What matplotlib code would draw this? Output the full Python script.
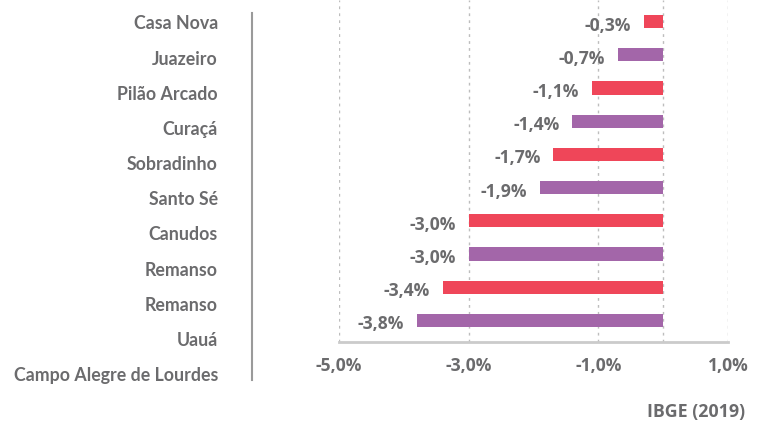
"""Variação populacional por município (IBGE 2019)."""

import matplotlib
matplotlib.use("Agg")
import matplotlib.pyplot as plt
from matplotlib.ticker import FuncFormatter

# --- data -------------------------------------------------------------
city_labels = [
    "Casa Nova", "Juazeiro", "Pilão Arcado", "Curaçá", "Sobradinho",
    "Santo Sé", "Canudos", "Remanso", "Remanso", "Uauá",
    "Campo Alegre de Lourdes",
]
variation = [-0.3, -0.7, -1.1, -1.4, -1.7, -1.9, -3.0, -3.0, -3.4, -3.8]
tick_values = [-5, -3, -1, 1]
grid_values = [-5, -3, -1, 0, 1]
source_note = "IBGE (2019)"

RED = "#ef4659"
PURPLE = "#a366a9"
TEXT = "#6b6b6d"
NUM_FONT = ["Open Sans", "DejaVu Sans"]
NUM_SIZE = 12.6
bar_colors = [RED if i % 2 == 0 else PURPLE for i in range(len(variation))]

plt.rcParams["font.family"] = ["Lato", "DejaVu Sans"]
plt.rcParams["font.weight"] = "bold"

W, H = 761, 423
fig = plt.figure(figsize=(W / 100, H / 100), dpi=100)


def fx(px):
    return px / W


def fy(px):
    return 1 - px / H


def pct(v):
    return f"{v:.1f}%".replace(".", ",")


# bars axes: x -5..1 spans pixels 339..728, bottom axis at y=342
ax = fig.add_axes([fx(339), fy(342), fx(728) - fx(339), fy(0) - fy(342)])
pos = list(range(len(variation)))
ax.barh(pos, variation, height=0.4, color=bar_colors, zorder=3)
ax.set_xlim(-5, 1)
ax.set_ylim(9.65, -0.65)

for x in grid_values:
    ax.axvline(x, color="#bdbdbd", lw=1, ls=(0, (2, 3)), zorder=1)

for p, v in zip(pos, variation):
    ax.annotate(pct(v), (v, p + 0.12),
                xytext=(-9, 0), textcoords="offset points",
                ha="right", va="center", fontsize=NUM_SIZE, family=NUM_FONT,
                fontweight="bold", color=TEXT)

ax.set_xticks(tick_values)
ax.xaxis.set_major_formatter(FuncFormatter(lambda v, _: pct(v)))
ax.tick_params(axis="x", length=0, pad=11, labelcolor=TEXT)
for t in ax.get_xticklabels():
    t.set_fontfamily(NUM_FONT)
    t.set_fontsize(NUM_SIZE)
    t.set_fontweight("bold")
ax.set_yticks([])
for side in ("top", "right", "left"):
    ax.spines[side].set_visible(False)
ax.spines["bottom"].set_color("#cbcbcb")
ax.spines["bottom"].set_linewidth(2)

# category axis: its own spine at x=252, labels spaced on their own scale
lab = fig.add_axes([fx(252), fy(380), 0.001, fy(13) - fy(380)])
lab.set_ylim(10.17, -0.27)
lab.set_yticks(range(len(city_labels)))
lab.set_yticklabels(city_labels)
lab.tick_params(axis="y", length=0, pad=24.5, labelsize=12.8, labelcolor=TEXT)
lab.set_xticks([])
for side in ("top", "right", "bottom"):
    lab.spines[side].set_visible(False)
lab.spines["left"].set_color("#9a9a9a")
lab.spines["left"].set_linewidth(1.5)
lab.patch.set_visible(False)

fig.text(fx(745), fy(412), source_note, ha="right", va="center",
         fontsize=12.8, family=NUM_FONT, fontweight="bold", color=TEXT)

fig.savefig("out.png", dpi=100)
